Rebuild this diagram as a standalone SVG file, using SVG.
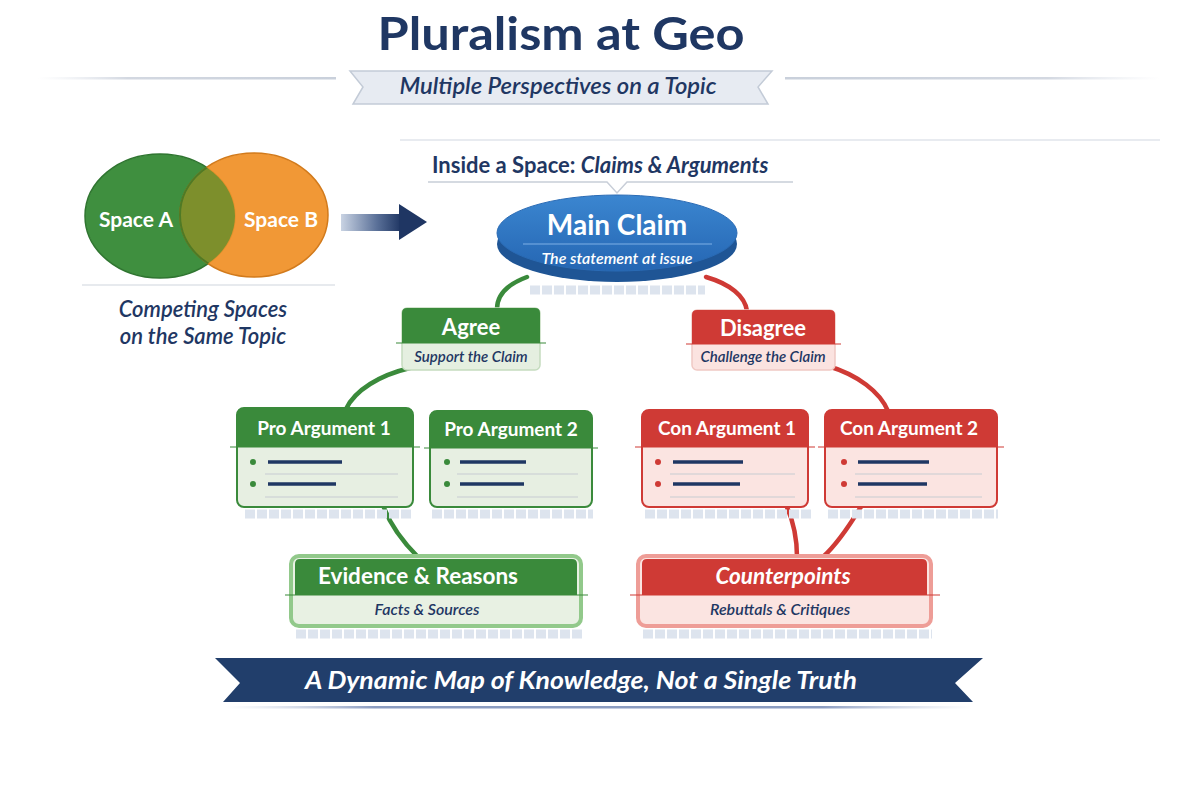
<svg xmlns="http://www.w3.org/2000/svg" width="1200" height="800" viewBox="0 0 1200 800">
<defs>
<linearGradient id="arrowGrad" x1="0" y1="0" x2="1" y2="0">
<stop offset="0" stop-color="#c9d3e3"/>
<stop offset="0.6" stop-color="#5a7098"/>
<stop offset="1" stop-color="#1f3663"/>
</linearGradient>
<linearGradient id="lineGradL" x1="0" y1="0" x2="1" y2="0">
<stop offset="0" stop-color="#e3e7ee" stop-opacity="0"/>
<stop offset="0.3" stop-color="#d3d8e1"/>
<stop offset="1" stop-color="#c9d0db"/>
</linearGradient>
<linearGradient id="lineGradR" x1="0" y1="0" x2="1" y2="0">
<stop offset="0" stop-color="#c9d0db"/>
<stop offset="0.7" stop-color="#d3d8e1"/>
<stop offset="1" stop-color="#e3e7ee" stop-opacity="0"/>
</linearGradient>
<linearGradient id="ellGrad" x1="0" y1="0" x2="0" y2="1">
<stop offset="0" stop-color="#3b86d0"/>
<stop offset="1" stop-color="#2566b3"/>
</linearGradient>
<linearGradient id="shadowGrad" x1="0" y1="0" x2="1" y2="0">
<stop offset="0" stop-color="#c3cde0" stop-opacity="0"/>
<stop offset="0.2" stop-color="#8b9cc0"/>
<stop offset="0.8" stop-color="#8b9cc0"/>
<stop offset="1" stop-color="#c3cde0" stop-opacity="0"/>
</linearGradient>
</defs>
<style>
text{font-family:Lato,"Open Sans","Liberation Sans",sans-serif}
.navy{fill:#1f3763}
.title{font-size:46px;font-weight:700}
.sub{font-size:22px;font-style:italic;font-weight:600}
.hdr{fill:#fff;font-weight:700;text-anchor:middle}
.it{font-style:italic;text-anchor:middle;fill:#1f3763;font-weight:600}
.gStroke{stroke:#3a8a3b}
.rStroke{stroke:#cf3a35}
.conn{fill:none;stroke-width:4.5;stroke-linecap:round}
.shadow{stroke:#dde4ee;stroke-width:9;stroke-dasharray:10 2;fill:none}
.sep{stroke:#c8ccd2;stroke-width:1.2}
.bline{stroke:#1f3763;stroke-width:3.5}
</style>
<rect width="1200" height="800" fill="#ffffff"/>

<g id="title">
<text x="561" y="50" class="title navy" text-anchor="middle" textLength="367" lengthAdjust="spacingAndGlyphs">Pluralism at Geo</text>
<rect x="38" y="77" width="298" height="2.5" fill="url(#lineGradL)"/>
<rect x="785" y="77" width="375" height="2.5" fill="url(#lineGradR)"/>
<path d="M350,71 L772,71 L758,87 L768,104 L353,104 L363,87 Z" fill="#e7ebf2" stroke="#c3cbd7" stroke-width="1.5"/>
<text x="558" y="94" class="sub navy" text-anchor="middle" textLength="317" lengthAdjust="spacingAndGlyphs">Multiple Perspectives on a Topic</text>
<line x1="400" y1="140" x2="1160" y2="140" stroke="#e8ebf0" stroke-width="2"/>
</g>

<g id="venn">
<ellipse cx="160" cy="216" rx="75" ry="62" fill="#3f8f3f" stroke="#2f7530" stroke-width="1.5"/>
<ellipse cx="254" cy="215" rx="74" ry="62" fill="#f0922b" fill-opacity="0.95" stroke="#d27a1b" stroke-width="1.5"/>
<clipPath id="clipA"><ellipse cx="160" cy="216" rx="75" ry="62"/></clipPath>
<ellipse cx="254" cy="215" rx="74" ry="62" fill="#7d8f2c" clip-path="url(#clipA)" stroke="#4f7a25" stroke-width="2"/>
<text x="136" y="227" class="hdr" font-size="21">Space A</text>
<text x="281" y="227" class="hdr" font-size="21">Space B</text>
<line x1="82" y1="285" x2="335" y2="285" stroke="#dfe3e9" stroke-width="1.5"/>
<text x="203" y="317" class="it" font-size="22" font-weight="700">Competing Spaces</text>
<text x="203" y="344" class="it" font-size="22" font-weight="700">on the Same Topic</text>
</g>

<g id="arrow">
<rect x="341" y="214" width="60" height="17" fill="url(#arrowGrad)"/>
<path d="M399,204 L427,222 L399,240 Z" fill="#1f3663"/>
</g>

<g id="section-label">
<text x="432" y="173" font-size="22" font-weight="700" class="navy">Inside a Space: <tspan font-style="italic">Claims &amp; Arguments</tspan></text>
<path d="M428,182 L607,182 L617,193 L627,182 L793,182" fill="none" stroke="#c8ced8" stroke-width="1.5"/>
</g>

<g id="connectors">
<path class="conn gStroke" d="M527,277 C508,284 497,294 497,309"/>
<path class="conn rStroke" d="M706,277 C730,284 745,296 747,311"/>
<path class="conn gStroke" d="M410,368 C380,375 355,390 346,409"/>
<path class="conn rStroke" d="M828,366 C858,375 880,392 888,411"/>
<path class="conn gStroke" d="M383,505 C390,525 404,543 418,557"/>
<path class="conn rStroke" d="M786,505 C793,520 797,540 797,557"/>
<path class="conn rStroke" d="M862,505 C850,525 836,545 823,557"/>
</g>

<g id="main-claim">
<path class="shadow" d="M530,290 L705,290"/>
<ellipse cx="617" cy="244" rx="120" ry="38" fill="#1f5595"/>
<ellipse cx="617" cy="233" rx="120" ry="38" fill="url(#ellGrad)" stroke="#2a6bb5" stroke-width="1"/>
<text x="617" y="235" class="hdr" font-size="28">Main Claim</text>
<line x1="523" y1="244" x2="712" y2="244" stroke="#7fb0e6" stroke-width="1.2"/>
<text x="617" y="264" font-size="16" font-style="italic" fill="#ffffff" text-anchor="middle" font-weight="600">The statement at issue</text>
</g>

<g id="agree">
<rect x="402" y="308" width="138" height="62" rx="5" fill="#e5efe0" stroke="#c5dcbf" stroke-width="1.5"/>
<path d="M402,343 L402,313 Q402,308 407,308 L535,308 Q540,308 540,313 L540,343 Z" fill="#3a8a3b"/>
<line x1="396" y1="343" x2="546" y2="343" stroke="#3a8a3b" stroke-width="1.2"/>
<text x="471" y="335" class="hdr" font-size="22">Agree</text>
<text x="471" y="362" class="it" font-size="15">Support the Claim</text>
</g>

<g id="disagree">
<rect x="692" y="310" width="143" height="60" rx="5" fill="#fbe3e0" stroke="#f0c9c4" stroke-width="1.5"/>
<path d="M692,344 L692,315 Q692,310 697,310 L830,310 Q835,310 835,315 L835,344 Z" fill="#cf3a35"/>
<line x1="686" y1="344" x2="841" y2="344" stroke="#cf3a35" stroke-width="1.2"/>
<text x="763" y="336" class="hdr" font-size="22">Disagree</text>
<text x="763" y="362" class="it" font-size="15">Challenge the Claim</text>
</g>

<g id="pro-argument-1">
<path class="shadow" d="M245,514 L412,514"/>
<rect x="237" y="408" width="176" height="99" rx="7" fill="#e7efe2" stroke="#3a8a3b" stroke-width="2"/>
<path d="M237,447 L237,415 Q237,408 244,408 L406,408 Q413,408 413,415 L413,447 Z" fill="#3a8a3b"/>
<line x1="230" y1="447" x2="420" y2="447" stroke="#3a8a3b" stroke-width="1.2"/>
<text x="324" y="435" class="hdr" font-size="19">Pro Argument 1</text>
<circle cx="253" cy="462" r="3" fill="#3a8a3b"/>
<circle cx="253" cy="484" r="3" fill="#3a8a3b"/>
<line class="bline" x1="268" y1="462" x2="342" y2="462"/>
<line class="bline" x1="268" y1="484" x2="336" y2="484"/>
<line class="sep" x1="265" y1="474" x2="398" y2="474"/>
<line class="sep" x1="265" y1="497" x2="398" y2="497"/>
</g>

<g id="pro-argument-2">
<path class="shadow" d="M432,514 L593,514"/>
<rect x="430" y="411" width="162" height="96" rx="7" fill="#e7efe2" stroke="#3a8a3b" stroke-width="2"/>
<path d="M430,448 L430,418 Q430,411 437,411 L585,411 Q592,411 592,418 L592,448 Z" fill="#3a8a3b"/>
<line x1="424" y1="448" x2="598" y2="448" stroke="#3a8a3b" stroke-width="1.2"/>
<text x="511" y="436" class="hdr" font-size="19">Pro Argument 2</text>
<circle cx="447" cy="462" r="3" fill="#3a8a3b"/>
<circle cx="447" cy="484" r="3" fill="#3a8a3b"/>
<line class="bline" x1="460" y1="462" x2="526" y2="462"/>
<line class="bline" x1="460" y1="484" x2="524" y2="484"/>
<line class="sep" x1="457" y1="474" x2="578" y2="474"/>
<line class="sep" x1="457" y1="497" x2="578" y2="497"/>
</g>

<g id="con-argument-1">
<path class="shadow" d="M645,514 L812,514"/>
<rect x="642" y="410" width="166" height="97" rx="7" fill="#fbe4e1" stroke="#cf3a35" stroke-width="2"/>
<path d="M642,447 L642,417 Q642,410 649,410 L801,410 Q808,410 808,417 L808,447 Z" fill="#cf3a35"/>
<line x1="635" y1="447" x2="815" y2="447" stroke="#cf3a35" stroke-width="1.2"/>
<text x="727" y="435" class="hdr" font-size="19">Con Argument 1</text>
<circle cx="658" cy="462" r="3" fill="#cf3a35"/>
<circle cx="658" cy="484" r="3" fill="#cf3a35"/>
<line class="bline" x1="673" y1="462" x2="743" y2="462"/>
<line class="bline" x1="673" y1="484" x2="740" y2="484"/>
<line class="sep" x1="670" y1="474" x2="795" y2="474"/>
<line class="sep" x1="670" y1="497" x2="795" y2="497"/>
</g>

<g id="con-argument-2">
<path class="shadow" d="M828,514 L998,514"/>
<rect x="825" y="410" width="172" height="97" rx="7" fill="#fbe4e1" stroke="#cf3a35" stroke-width="2"/>
<path d="M825,447 L825,417 Q825,410 832,410 L990,410 Q997,410 997,417 L997,447 Z" fill="#cf3a35"/>
<line x1="818" y1="447" x2="1004" y2="447" stroke="#cf3a35" stroke-width="1.2"/>
<text x="909" y="435" class="hdr" font-size="19">Con Argument 2</text>
<circle cx="844" cy="462" r="3" fill="#cf3a35"/>
<circle cx="844" cy="484" r="3" fill="#cf3a35"/>
<line class="bline" x1="858" y1="462" x2="929" y2="462"/>
<line class="bline" x1="858" y1="484" x2="927" y2="484"/>
<line class="sep" x1="855" y1="474" x2="982" y2="474"/>
<line class="sep" x1="855" y1="497" x2="982" y2="497"/>
</g>

<g id="evidence">
<path class="shadow" d="M296,634 L582,634"/>
<rect x="291" y="556" width="290" height="70" rx="8" fill="#e8f1e3" stroke="#92c98b" stroke-width="4"/>
<path d="M295,595 L295,564 Q295,559 300,559 L572,559 Q577,559 577,564 L577,595 Z" fill="#3a8a3b"/>
<line x1="285" y1="595" x2="588" y2="595" stroke="#3a8a3b" stroke-width="1.2"/>
<text x="418" y="584" class="hdr" font-size="22.5">Evidence &amp; Reasons</text>
<text x="427" y="615" class="it" font-size="16">Facts &amp; Sources</text>
</g>

<g id="counterpoints">
<path class="shadow" d="M643,634 L932,634"/>
<rect x="638" y="556" width="293" height="70" rx="8" fill="#fbe4e1" stroke="#ee9d97" stroke-width="4"/>
<path d="M642,595 L642,564 Q642,559 647,559 L922,559 Q927,559 927,564 L927,595 Z" fill="#cf3a35"/>
<line x1="630" y1="595" x2="940" y2="595" stroke="#cf3a35" stroke-width="1.2"/>
<text x="783" y="584" class="hdr" font-size="22.5" font-style="italic">Counterpoints</text>
<text x="780" y="615" class="it" font-size="16">Rebuttals &amp; Critiques</text>
</g>

<g id="banner">
<rect x="225" y="706" width="747" height="2.5" fill="url(#shadowGrad)"/>
<path d="M215,658 L983,658 L955,683 L973,702 L223,702 L240,683 Z" fill="#213e6b"/>
<text x="581" y="689" font-size="24" font-style="italic" font-weight="700" fill="#ffffff" text-anchor="middle" textLength="552" lengthAdjust="spacingAndGlyphs">A Dynamic Map of Knowledge, Not a Single Truth</text>
</g>
</svg>
